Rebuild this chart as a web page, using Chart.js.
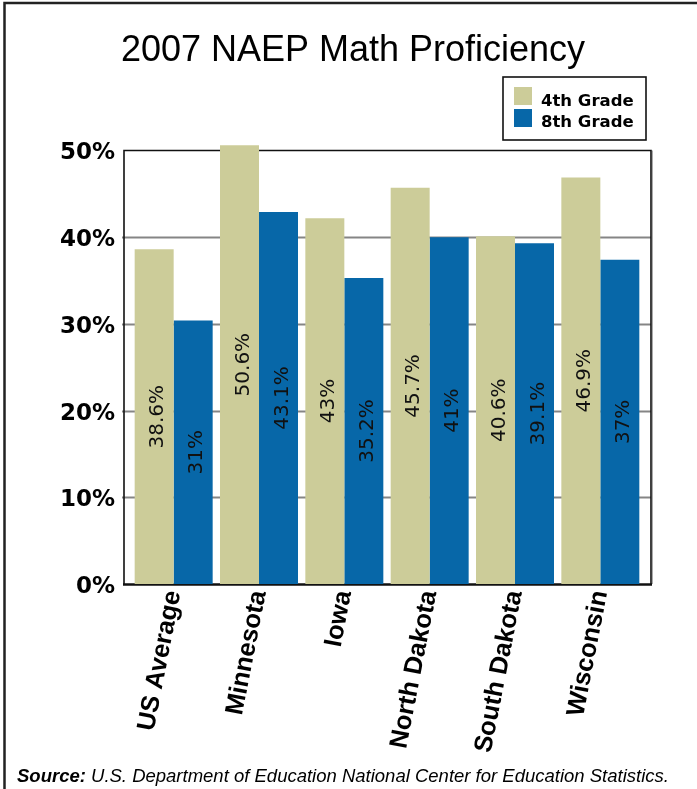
<!DOCTYPE html>
<html>
<head>
<meta charset="utf-8">
<script src="https://cdn.jsdelivr.net/npm/chart.js@4.4.0/dist/chart.umd.min.js"></script>
<style>
  html, body { margin: 0; padding: 0; background: #fff; }
  #wrap { width: 697px; height: 789px; position: relative; }
</style>
</head>
<body>
<div id="wrap"><canvas id="chart" width="697" height="789"></canvas></div>
<script>
// categories and values
const categories   = ['US Average', 'Minnesota', 'Iowa', 'North Dakota', 'South Dakota', 'Wisconsin'];
const seriesNames  = ['4th Grade', '8th Grade'];
const grade4Values = [38.6, 50.6, 42.2, 45.7, 40.1, 46.9];
const grade8Values = [30.4, 42.9, 35.3, 40.0, 39.3, 37.4];
// printed labels inside the bars
const grade4Labels = ['38.6%', '50.6%', '43%', '45.7%', '40.6%', '46.9%'];
const grade8Labels = ['31%', '43.1%', '35.2%', '41%', '39.1%', '37%'];
const yTicks       = [0, 10, 20, 30, 40, 50];

const COLOR_4TH = '#CCCC99';
const COLOR_8TH = '#0767A8';

// frame, gridlines, title, legend box and source line
const decor = {
  id: 'decor',
  beforeDatasetsDraw(chart) {
    const { ctx, chartArea: a, scales: { y } } = chart;
    const fl = a.left - 7, fr = a.right + 8;
    ctx.save();
    // outer page frame
    ctx.strokeStyle = '#222';
    ctx.lineWidth = 2.5;
    ctx.beginPath();
    ctx.moveTo(4.5, 789); ctx.lineTo(4.5, 3); ctx.lineTo(697, 3);
    ctx.stroke();
    // gridlines from the y scale
    ctx.strokeStyle = '#858585';
    ctx.lineWidth = 2;
    y.ticks.forEach(t => {
      if (t.value === 0 || t.value === 50) return;
      const py = Math.round(y.getPixelForValue(t.value)) + 0.5;
      ctx.beginPath(); ctx.moveTo(fl - 2, py); ctx.lineTo(fr, py); ctx.stroke();
    });
    // plot frame
    const top = y.getPixelForValue(50), bot = y.getPixelForValue(0);
    ctx.strokeStyle = '#111';
    ctx.lineWidth = 1.6;
    ctx.beginPath();
    ctx.moveTo(fl, bot); ctx.lineTo(fl, top); ctx.lineTo(fr, top); ctx.lineTo(fr, bot);
    ctx.stroke();
    ctx.strokeStyle = '#aaa'; ctx.lineWidth = 1;
    ctx.beginPath(); ctx.moveTo(fr + 1.5, top); ctx.lineTo(fr + 1.5, bot); ctx.stroke();
    ctx.strokeStyle = '#111'; ctx.lineWidth = 2.5;
    ctx.beginPath(); ctx.moveTo(fl - 1, bot + 0.5); ctx.lineTo(fr + 1, bot + 0.5); ctx.stroke();

    // title
    ctx.fillStyle = '#000';
    ctx.font = '36px "Liberation Sans"';
    ctx.textAlign = 'center';
    ctx.textBaseline = 'alphabetic';
    ctx.fillText('2007 NAEP Math Proficiency', 353, 61);

    // legend box
    ctx.strokeStyle = '#111'; ctx.lineWidth = 1.6;
    ctx.strokeRect(503, 77, 143, 63);
    const colors = [COLOR_4TH, COLOR_8TH];
    ctx.font = 'bold 16.5px "DejaVu Sans"';
    ctx.textAlign = 'left';
    seriesNames.forEach((name, i) => {
      ctx.fillStyle = colors[i];
      ctx.fillRect(514, 87 + i * 22, 18, 18);
      ctx.fillStyle = '#000';
      ctx.fillText(name, 541, 105.5 + i * 21.5);
    });

    // source line
    ctx.font = 'italic bold 18.5px "Liberation Sans"';
    ctx.fillText('Source:', 17, 782);
    const w = ctx.measureText('Source: ').width;
    ctx.font = 'italic 18.5px "Liberation Sans"';
    ctx.fillText('U.S. Department of Education National Center for Education Statistics.', 17 + w, 782);
    ctx.restore();
  }
};

// rotated value labels in the middle of every bar
const barLabels = {
  id: 'barLabels',
  afterDatasetsDraw(chart) {
    const { ctx } = chart;
    const texts = [grade4Labels, grade8Labels];
    ctx.save();
    ctx.fillStyle = '#111';
    ctx.font = '20px "DejaVu Sans"';
    ctx.textAlign = 'center';
    ctx.textBaseline = 'middle';
    chart.data.datasets.forEach((ds, di) => {
      chart.getDatasetMeta(di).data.forEach((bar, i) => {
        ctx.save();
        ctx.translate(bar.x + 4, (bar.y + bar.base) / 2);
        ctx.rotate(-Math.PI / 2);
        ctx.fillText(texts[di][i], 0, 0);
        ctx.restore();
      });
    });
    ctx.restore();
  }
};

new Chart(document.getElementById('chart'), {
  type: 'bar',
  data: {
    labels: categories,
    datasets: [
      { label: seriesNames[0], data: grade4Values, backgroundColor: COLOR_4TH,
        categoryPercentage: 0.914, barPercentage: 1, clip: false },
      { label: seriesNames[1], data: grade8Values, backgroundColor: COLOR_8TH,
        categoryPercentage: 0.914, barPercentage: 1, clip: false }
    ]
  },
  options: {
    responsive: false,
    animation: false,
    devicePixelRatio: 1,
    layout: { padding: { top: 150.5, right: 54, left: 0, bottom: 0 } },
    plugins: {
      legend: { display: false },
      title: { display: false },
      tooltip: { enabled: false }
    },
    scales: {
      x: {
        grid: { display: false, drawTicks: false },
        border: { display: false },
        ticks: {
          autoSkip: false, minRotation: 79, maxRotation: 79, padding: 4,
          color: '#000',
          font: { family: 'Liberation Sans', weight: 'bold', size: 25.5 }
        },
        afterFit: s => { s.height = 205; }
      },
      y: {
        min: 0, max: 50,
        grid: { display: false, drawTicks: false },
        border: { display: false },
        afterBuildTicks: s => { s.ticks = yTicks.map(v => ({ value: v })); },
        ticks: {
          padding: 16, labelOffset: 3, color: '#000',
          callback: v => v + '%',
          font: { family: 'DejaVu Sans', weight: 'bold', size: 23 }
        },
        afterFit: s => { s.width = 131; }
      }
    }
  },
  plugins: [decor, barLabels]
});
</script>
</body>
</html>
